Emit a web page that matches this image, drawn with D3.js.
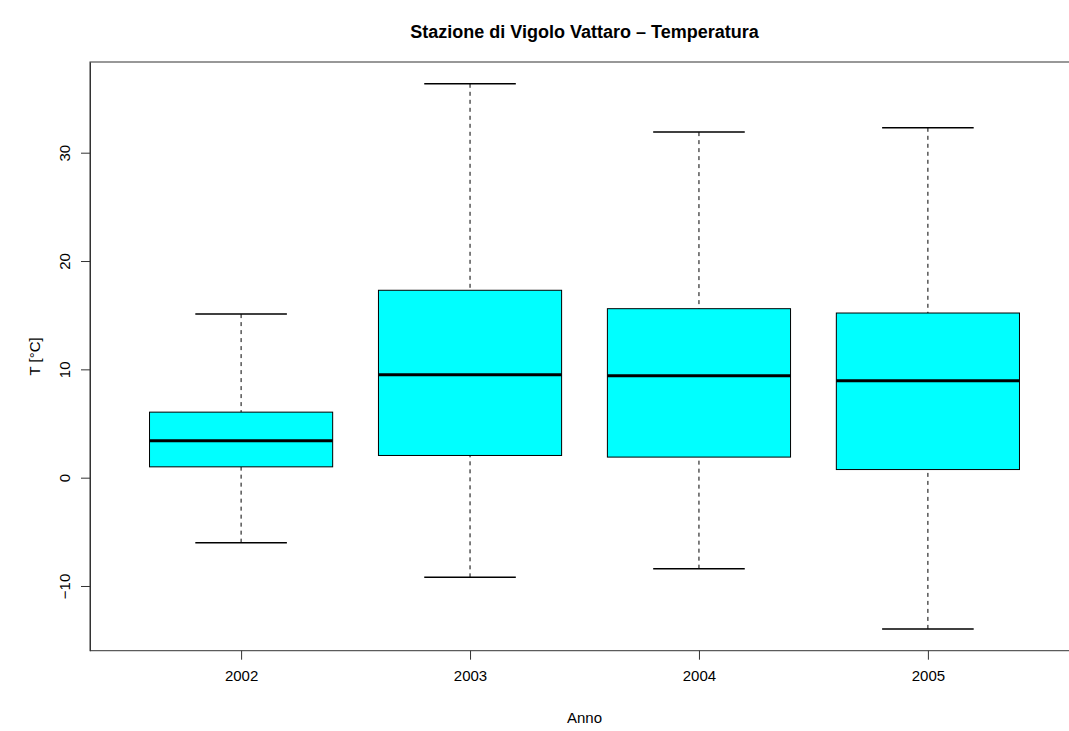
<!DOCTYPE html>
<html>
<head>
<meta charset="utf-8">
<script src="https://cdn.jsdelivr.net/npm/d3@7"></script>
<style>
  html, body { margin: 0; padding: 0; background: #fff; }
  svg { display: block; font-family: "Liberation Sans", Arial, Helvetica, sans-serif; }
</style>
</head>
<body>
<svg id="chart" width="1069" height="731"></svg>
<script>
const years = ["2002", "2003", "2004", "2005"];
const upperWhisker = [15.1, 36.36, 31.9, 32.3];
const q3 = [6.05, 17.3, 15.6, 15.2];
const median = [3.4, 9.5, 9.4, 8.95];
const q1 = [1.0, 2.05, 1.9, 0.75];
const lowerWhisker = [-6.0, -9.2, -8.4, -13.96];
const yTicks = [-10, 0, 10, 20, 30];

const title = "Stazione di Vigolo Vattaro \u2013 Temperatura";
const xLabel = "Anno";
const yLabel = "T [\u00B0C]";

(function () {
const svg = d3.select("#chart");
const pLeft = 90, pRight = 1079, pTop = 62, pBottom = 650.7;

const dMin = d3.min(lowerWhisker), dMax = d3.max(upperWhisker);
const pad = 0.04 * (dMax - dMin);
const y = d3.scaleLinear().domain([dMin - pad, dMax + pad]).range([pBottom, pTop]);
const n = years.length;
const xpad = 0.04 * n;
const x = d3.scaleLinear().domain([0.5 - xpad, n + 0.5 + xpad]).range([pLeft, pRight]);

const data = years.map((yr, i) => ({
  yr, i: i + 1,
  lo: lowerWhisker[i], q1: q1[i], med: median[i], q3: q3[i], hi: upperWhisker[i]
}));

const boxW = 0.8, capW = 0.4;
const g = svg.append("g");

// whiskers (dashed)
g.selectAll(".wlo").data(data).enter().append("line")
  .attr("x1", d => x(d.i)).attr("x2", d => x(d.i))
  .attr("y1", d => y(d.lo)).attr("y2", d => y(d.q1))
  .attr("stroke", "#000").attr("stroke-width", 1).attr("stroke-dasharray", "4,4");
g.selectAll(".whi").data(data).enter().append("line")
  .attr("x1", d => x(d.i)).attr("x2", d => x(d.i))
  .attr("y1", d => y(d.hi)).attr("y2", d => y(d.q3))
  .attr("stroke", "#000").attr("stroke-width", 1).attr("stroke-dasharray", "4,4");

// caps
g.selectAll(".caplo").data(data).enter().append("line")
  .attr("x1", d => x(d.i - capW / 2)).attr("x2", d => x(d.i + capW / 2))
  .attr("y1", d => y(d.lo)).attr("y2", d => y(d.lo))
  .attr("stroke", "#000").attr("stroke-width", 1.5);
g.selectAll(".caphi").data(data).enter().append("line")
  .attr("x1", d => x(d.i - capW / 2)).attr("x2", d => x(d.i + capW / 2))
  .attr("y1", d => y(d.hi)).attr("y2", d => y(d.hi))
  .attr("stroke", "#000").attr("stroke-width", 1.5);

// boxes
g.selectAll(".box").data(data).enter().append("rect")
  .attr("x", d => x(d.i - boxW / 2))
  .attr("width", d => x(d.i + boxW / 2) - x(d.i - boxW / 2))
  .attr("y", d => y(d.q3))
  .attr("height", d => y(d.q1) - y(d.q3))
  .attr("fill", "#00FFFF").attr("stroke", "#000").attr("stroke-width", 1);

// medians
g.selectAll(".med").data(data).enter().append("line")
  .attr("x1", d => x(d.i - boxW / 2)).attr("x2", d => x(d.i + boxW / 2))
  .attr("y1", d => y(d.med)).attr("y2", d => y(d.med))
  .attr("stroke", "#000").attr("stroke-width", 3);

// frame
svg.append("rect")
  .attr("x", pLeft).attr("y", pTop)
  .attr("width", pRight - pLeft).attr("height", pBottom - pTop)
  .attr("fill", "none").attr("stroke", "#333").attr("stroke-width", 1);

// y axis
const yAxis = svg.append("g").attr("transform", `translate(${pLeft},0)`)
  .call(d3.axisLeft(y).tickValues(yTicks).tickSize(9).tickSizeOuter(0)
    .tickFormat(d => d < 0 ? "\u2212" + Math.abs(d) : d));
yAxis.select(".domain").attr("stroke", "#333");
yAxis.selectAll(".tick line").attr("stroke", "#333");
yAxis.selectAll(".tick text")
  .attr("font-size", 15).attr("fill", "#000")
  .attr("transform", "rotate(-90)")
  .attr("x", 0).attr("y", -20)
  .attr("dy", 0)
  .attr("text-anchor", "middle");

// x axis
const xAxis = svg.append("g").attr("transform", `translate(0,${pBottom})`)
  .call(d3.axisBottom(x).tickValues(data.map(d => d.i)).tickSize(9).tickSizeOuter(0)
    .tickFormat((d, i) => years[i]));
xAxis.select(".domain").remove();
xAxis.selectAll(".tick line").attr("stroke", "#333");
xAxis.selectAll(".tick text")
  .attr("font-size", 15).attr("fill", "#000").attr("y", 26).attr("dy", "0.32em");

// labels
svg.append("text").attr("x", (pLeft + pRight) / 2).attr("y", 38)
  .attr("text-anchor", "middle").attr("font-weight", "bold").attr("font-size", 18)
  .text(title);
svg.append("text").attr("x", (pLeft + pRight) / 2).attr("y", 723)
  .attr("text-anchor", "middle").attr("font-size", 15).text(xLabel);
svg.append("text").attr("transform", `translate(40,${(pTop + pBottom) / 2}) rotate(-90)`)
  .attr("text-anchor", "middle").attr("font-size", 15).text(yLabel);
})();
</script>
</body>
</html>
